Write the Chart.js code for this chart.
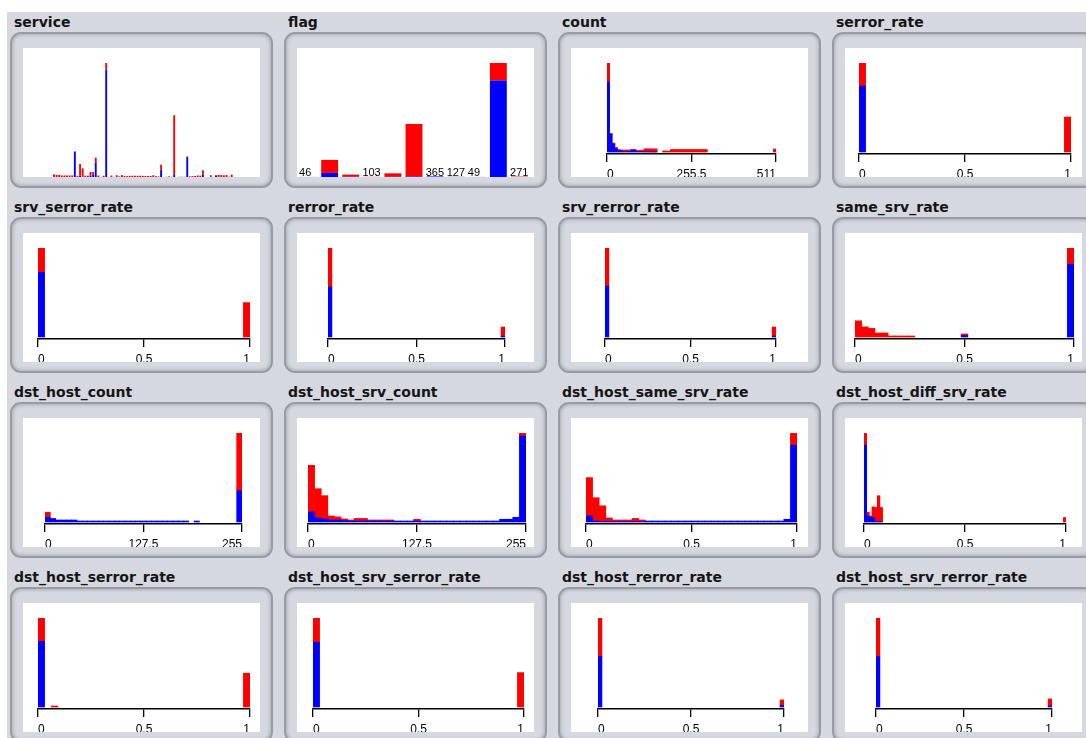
<!DOCTYPE html>
<html><head><meta charset="utf-8">
<script src="https://cdn.jsdelivr.net/npm/chart.js@4.4.1/dist/chart.umd.min.js"></script>
<style>
html,body{margin:0;padding:0;background:#fff;width:1086px;height:738px;overflow:hidden;position:relative}
#bg{position:absolute;left:7px;top:12px;right:0;bottom:0;background:#d5d8df}
.title{position:absolute;font:bold 14px "DejaVu Sans",sans-serif;line-height:16px;color:#151515;white-space:nowrap}
.box{position:absolute;box-sizing:border-box;width:263px;height:156px;border:2px solid #979ba3;border-radius:11px;box-shadow:inset 0 0 4px rgba(0,0,0,0.3);background:#d5d8df}
.plot{position:absolute;width:237px;height:129px;background:#fff;overflow:hidden}
canvas{display:block}
</style></head><body>
<div id="bg"></div>
<script>
const BLUE = '#0000ff', RED = '#ff0000';

// ---- nominal attributes ----
const serviceNames = ['aol','auth','bgp','courier','csnet_ns','ctf','daytime','discard','domain','domain_u','echo','eco_i','ecr_i','efs','exec','finger','ftp','ftp_data','gopher','harvest','hostnames','http','http_2784','http_443','http_8001','imap4','IRC','iso_tsap','klogin','kshell','ldap','link','login','mtp','name','netbios_dgm','netbios_ns','netbios_ssn','netstat','nnsp','nntp','ntp_u','other','pm_dump','pop_2','pop_3','printer','private','red_i','remote_job','rje','shell','smtp','sql_net','ssh','sunrpc','supdup','systat','telnet','tftp_u','tim_i','time','urh_i','urp_i','uucp','uucp_path','vmnet','whois','X11','Z39_50'];
const serviceNormal = [0,236,0,0,0,0,0,0,38,9034, 0,497,190,0,0,545,918,4984,0,0, 0,38049,0,0,0,3,186,0,0,0, 0,0,0,0,0,0,0,0,0,0, 0,168,2604,0,0,78,0,982,8,0, 0,4,7029,0,5,0,0,0,917,3, 3,76,10,599,0,0,0,0,41,0];
const serviceAnomaly = [2,719,710,734,545,563,521,538,531,9, 434,4089,2887,485,474,1222,836,1876,518,2, 460,2289,1,530,2,644,1,687,433,299, 410,475,429,439,451,405,347,362,360,630, 296,0,1755,5,78,186,69,20871,0,78, 86,61,284,245,306,381,544,477,1436,0, 5,578,0,3,780,689,617,693,26,862];

const flagNames = ['OTH','REJ','RSTO','RSTOS0','RSTR','S0','S1','S2','S3','SF','SH'];
const flagNormal = [35,2693,219,0,146,354,361,119,34,63393,9];
const flagAnomaly = [11,8540,1343,103,2275,34497,4,8,15,11552,262];

// ---- numeric attributes (histogram bins, normal = blue, anomaly = red) ----
const countNormal = [49000,12600,5600,2450,1050,700,350,350,350,1400, 1400,350,210,210,140,140,140,70,70,0, 0,0,0,0,0,0,0,0,0,0, 0,0,0,0,0,0,0,0,0,0, 0,0,0,0,0,0,0,0,0,0, 0,0,0,0,0,0,0,0,0,0, 0,0,0,0];
const countAnomaly = [13300,350,700,700,700,700,1050,1050,1050,350, 350,700,1050,1050,2100,2100,2100,2100,2100,0, 0,700,700,700,1750,1750,1750,1750,1750,1750, 1750,1750,1750,1750,1750,1750,1750,1750,0,0, 0,0,0,0,0,0,0,0,0,0, 0,0,0,0,0,0,0,0,0,0, 0,0,0,2100];

const serrorNormal = [66000,0,0,0,0,0,0,0,0,0, 0,0,0,0,0,0,0,0,0,0, 0,0,0,0,0,0,0,0,0,0, 0,0];
const serrorAnomaly = [23000,0,0,0,0,0,0,0,0,0, 0,0,0,0,0,0,0,0,0,0, 0,0,0,0,0,0,0,0,0,0, 0,35000];

const srvSerrorNormal = [64000,0,0,0,0,0,0,0,0,0, 0,0,0,0,0,0,0,0,0,0, 0,0,0,0,0,0,0,0,0,0, 0,0];
const srvSerrorAnomaly = [24000,0,0,0,0,0,0,0,0,0, 0,0,0,0,0,0,0,0,0,0, 0,0,0,0,0,0,0,0,0,0, 0,34000];

const rerrorNormal = [50000,0,0,0,0,0,0,0,0,0, 0,0,0,0,0,0,0,0,0,0, 0,0,0,0,0,0,0,0,0,0, 0,0,0,0,0,0,0,0,0,0, 0,0,0,0,1000];
const rerrorAnomaly = [39000,0,0,0,0,0,0,0,0,0, 0,0,0,0,0,0,0,0,0,0, 0,0,0,0,0,0,0,0,0,0, 0,0,0,0,0,0,0,0,0,0, 0,0,0,0,9000];

const srvRerrorNormal = [51000,0,0,0,0,0,0,0,0,0, 0,0,0,0,0,0,0,0,0,0, 0,0,0,0,0,0,0,0,0,0, 0,0,0,0,0,0,0,0,0,0, 0,0,0,1000];
const srvRerrorAnomaly = [38000,0,0,0,0,0,0,0,0,0, 0,0,0,0,0,0,0,0,0,0, 0,0,0,0,0,0,0,0,0,0, 0,0,0,0,0,0,0,0,0,0, 0,0,0,9000];

const sameSrvNormal = [0,0,0,0,0,0,0,0,0,0, 0,0,0,0,0,0,1500,0,0,0, 0,0,0,0,0,0,0,0,0,0, 0,0,72000];
const sameSrvAnomaly = [16000,10000,8500,4000,4000,1000,1000,1000,1000,0, 0,0,0,0,0,0,1500,0,0,0, 0,0,0,0,0,0,0,0,0,0, 0,0,16000];

const dhCountNormal = [3900,2700,1650,1650,1650,1650,830,830,830,830, 830,830,830,830,830,830,830,830,830,830, 830,830,830,830,830,830,830,0,830,0, 0,0,0,0,0,0,25700];
const dhCountAnomaly = [4150,250,0,0,0,0,0,0,0,0, 0,0,0,0,0,0,0,0,0,0, 0,0,0,0,0,0,0,0,0,0, 0,0,0,0,0,0,47300];

const dhSrvCountNormal = [8300,3300,2500,1650,1650,1250,830,830,830,830, 830,830,830,830,830,830,830,830,830,830, 830,830,830,830,830,830,830,830,830,2250, 2250,3900,70500];
const dhSrvCountAnomaly = [38200,24000,19100,3300,2500,1250,830,2100,2100,830, 830,830,830,0,0,0,1400,0,0,0, 0,0,0,0,0,0,0,0,0,0, 0,0,2500];

const dhSameSrvNormal = [5000,830,400,400,400,400,400,400,400,830, 830,830,830,830,830,830,830,830,830,830, 830,830,830,830,830,830,830,830,830,830, 2250,63100];
const dhSameSrvAnomaly = [31500,19100,12900,2900,1250,1250,1250,2500,1250,0, 0,0,0,0,0,0,0,0,0,0, 0,0,0,0,0,0,0,0,0,0, 0,10000];

const dhDiffSrvNormal = [63100,5000,4150,3900,500,300,300,0,0,0, 0,0,0,0,0,0,0,0,0,0, 0,0,0,0,0,0,0,0,0,0, 0,0,0,0,0,0,0,0,0,0, 0,0,0,0,0,0,0,0,0,0, 0,0,0,0,0,0,0,0,0,0, 0,0,0,0,0,0,0,0,0,0, 0,0,0,0,0,0];
const dhDiffSrvAnomaly = [10000,3100,830,8550,11400,21300,11600,0,0,0, 0,0,0,0,0,0,0,0,0,0, 0,0,0,0,0,0,0,0,0,0, 0,0,0,0,0,0,0,0,0,0, 0,0,0,0,0,0,0,0,0,0, 0,0,0,0,0,0,0,0,0,0, 0,0,0,0,0,0,0,0,0,0, 0,0,0,0,0,3700];

const dhSerrorNormal = [65000,0,0,0,0,0,0,0,0,0, 0,0,0,0,0,0,0,0,0,0, 0,0,0,0,0,0,0,0,0,0, 0,0];
const dhSerrorAnomaly = [23000,0,1000,0,0,0,0,0,0,0, 0,0,0,0,0,0,0,0,0,0, 0,0,0,0,0,0,0,0,0,0, 0,33400];

const dhSrvSerrorNormal = [64000,0,0,0,0,0,0,0,0,0, 0,0,0,0,0,0,0,0,0,0, 0,0,0,0,0,0,0,0,0,0, 0,0];
const dhSrvSerrorAnomaly = [24000,0,0,0,0,0,0,0,0,0, 0,0,0,0,0,0,0,0,0,0, 0,0,0,0,0,0,0,0,0,0, 0,34000];

const dhRerrorNormal = [50000,0,0,0,0,0,0,0,0,0, 0,0,0,0,0,0,0,0,0,0, 0,0,0,0,0,0,0,0,0,0, 0,0,0,0,0,0,0,0,0,0, 0,0,0,0,0,0,1500];
const dhRerrorAnomaly = [38000,0,0,0,0,0,0,0,0,0, 0,0,0,0,0,0,0,0,0,0, 0,0,0,0,0,0,0,0,0,0, 0,0,0,0,0,0,0,0,0,0, 0,0,0,0,0,0,5500];

const dhSrvRerrorNormal = [50000,0,0,0,0,0,0,0,0,0, 0,0,0,0,0,0,0,0,0,0, 0,0,0,0,0,0,0,0,0,0, 0,0,0,0,0,0,0,0,0,0, 0,0,0,0,1000];
const dhSrvRerrorAnomaly = [38000,0,0,0,0,0,0,0,0,0, 0,0,0,0,0,0,0,0,0,0, 0,0,0,0,0,0,0,0,0,0, 0,0,0,0,0,0,0,0,0,0, 0,0,0,0,7000];

// ---- tick labels ----
const ticksRate = ['0','0.5','1'];
const ticksCount = ['0','255.5','511'];
const ticksHost = ['0','127.5','255'];

// ---- panels (row-major), with layout insets of the plot inside its white area ----
const panels = [
  {name:'service', cats:serviceNames, b:serviceNormal, r:serviceAnomaly, pad:[27,27], barPct:0.72},
  {name:'flag', cats:flagNames, b:flagNormal, r:flagAnomaly, pad:[1,4], barPct:0.8, counts:true},
  {name:'count', range:[0,511], ticks:ticksCount, b:countNormal, r:countAnomaly, pad:[36,32]},
  {name:'serror_rate', range:[0,1], ticks:ticksRate, b:serrorNormal, r:serrorAnomaly, pad:[14,11]},
  {name:'srv_serror_rate', range:[0,1], ticks:ticksRate, b:srvSerrorNormal, r:srvSerrorAnomaly, pad:[15,10]},
  {name:'rerror_rate', range:[0,1], ticks:ticksRate, b:rerrorNormal, r:rerrorAnomaly, pad:[31,29]},
  {name:'srv_rerror_rate', range:[0,1], ticks:ticksRate, b:srvRerrorNormal, r:srvRerrorAnomaly, pad:[34,32]},
  {name:'same_srv_rate', range:[0,1], ticks:ticksRate, b:sameSrvNormal, r:sameSrvAnomaly, pad:[10,8]},
  {name:'dst_host_count', range:[0,255], ticks:ticksHost, b:dhCountNormal, r:dhCountAnomaly, pad:[22,18]},
  {name:'dst_host_srv_count', range:[0,255], ticks:ticksHost, b:dhSrvCountNormal, r:dhSrvCountAnomaly, pad:[11,8]},
  {name:'dst_host_same_srv_rate', range:[0,1], ticks:ticksRate, b:dhSameSrvNormal, r:dhSameSrvAnomaly, pad:[15,11]},
  {name:'dst_host_diff_srv_rate', range:[0,1], ticks:ticksRate, b:dhDiffSrvNormal, r:dhDiffSrvAnomaly, pad:[19,16]},
  {name:'dst_host_serror_rate', range:[0,1], ticks:ticksRate, b:dhSerrorNormal, r:dhSerrorAnomaly, pad:[15,10]},
  {name:'dst_host_srv_serror_rate', range:[0,1], ticks:ticksRate, b:dhSrvSerrorNormal, r:dhSrvSerrorAnomaly, pad:[16,10]},
  {name:'dst_host_rerror_rate', range:[0,1], ticks:ticksRate, b:dhRerrorNormal, r:dhRerrorAnomaly, pad:[27,24]},
  {name:'dst_host_srv_rerror_rate', range:[0,1], ticks:ticksRate, b:dhSrvRerrorNormal, r:dhSrvRerrorAnomaly, pad:[31,30]}
];

const countLabels = {
  id: 'countLabels',
  afterDatasetsDraw(chart, args, opts) {
    if (!opts || !opts.show) return;
    const ctx = chart.ctx, y = chart.scales.y, meta = chart.getDatasetMeta(0);
    const b = chart.data.datasets[0].data, r = chart.data.datasets[1].data;
    ctx.save();
    ctx.font = '11px "Liberation Sans", Arial, sans-serif';
    ctx.fillStyle = '#000';
    ctx.textAlign = 'left';
    ctx.textBaseline = 'alphabetic';
    meta.data.forEach((bar, i) => {
      const tot = (b[i] || 0) + (r[i] || 0);
      if (y.getPixelForValue(0) - y.getPixelForValue(tot) < 1) {
        ctx.fillText(String(tot), bar.x - bar.width / 2 - 1, chart.height - 1.5);
      }
    });
    ctx.restore();
  }
};

panels.forEach((p, k) => {
  const col = k % 4, row = Math.floor(k / 4);
  const wl = 23 + 274 * col, wt = 48 + 185 * row;
  const box = document.createElement('div');
  box.className = 'box';
  box.style.left = (wl - 13) + 'px'; box.style.top = (wt - 16) + 'px';
  document.body.appendChild(box);
  const t = document.createElement('div');
  t.className = 'title'; t.textContent = p.name;
  t.style.left = (wl - 9) + 'px'; t.style.top = (wt - 34) + 'px';
  document.body.appendChild(t);
  const plot = document.createElement('div');
  plot.className = 'plot';
  plot.style.left = wl + 'px'; plot.style.top = wt + 'px';
  document.body.appendChild(plot);
  const cv = document.createElement('canvas');
  cv.width = 237; cv.height = 129;
  plot.appendChild(cv);

  const totals = p.b.map((v, i) => v + p.r[i]);
  const maxTot = Math.max(...totals);
  const numeric = !!p.range;
  const labels = numeric
    ? p.b.map((_, i) => (p.range[0] + i * (p.range[1] - p.range[0]) / p.b.length).toFixed(3))
    : p.cats;
  const barPct = numeric ? 1 : p.barPct;

  const scales = {
    x: { type: 'category', display: false, offset: true, stacked: true },
    y: { display: false, stacked: true, min: numeric ? -maxTot * 2 / 89 : 0, max: maxTot }
  };
  if (numeric) {
    scales.xt = {
      type: 'linear', position: 'bottom', min: p.range[0], max: p.range[1],
      offset: false,
      afterBuildTicks: s => { s.ticks = p.ticks.map(v => ({ value: parseFloat(v) })); },
      afterFit: s => { s.height = 23; },
      grid: { offset: false, drawOnChartArea: false, drawTicks: true, tickLength: 8, color: '#000', lineWidth: 1.3 },
      border: { display: true, color: '#000', width: 1.5 },
      ticks: {
        align: 'inner', padding: 5.5, color: '#000', autoSkip: false, maxRotation: 0,
        font: { family: '"Liberation Sans", Arial, sans-serif', size: 12 },
        callback: (v, i) => p.ticks[i]
      }
    };
  }
  // empty bins are not drawn
  const nz = a => a.map(v => (v > 0 ? v : null));

  new Chart(cv, {
    type: 'bar',
    data: {
      labels,
      datasets: [
        { data: nz(p.b), backgroundColor: BLUE, xAxisID: 'x', yAxisID: 'y', barPercentage: barPct, categoryPercentage: 1, borderWidth: 0 },
        { data: nz(p.r), backgroundColor: RED, xAxisID: 'x', yAxisID: 'y', barPercentage: barPct, categoryPercentage: 1, borderWidth: 0 }
      ]
    },
    options: {
      responsive: false, animation: false, devicePixelRatio: 1,
      layout: { padding: { top: 15, left: p.pad[0], right: p.pad[1], bottom: 0 } },
      plugins: { legend: { display: false }, tooltip: { enabled: false }, countLabels: { show: !!p.counts } },
      scales
    },
    plugins: [countLabels]
  });
});
</script>
</body></html>
